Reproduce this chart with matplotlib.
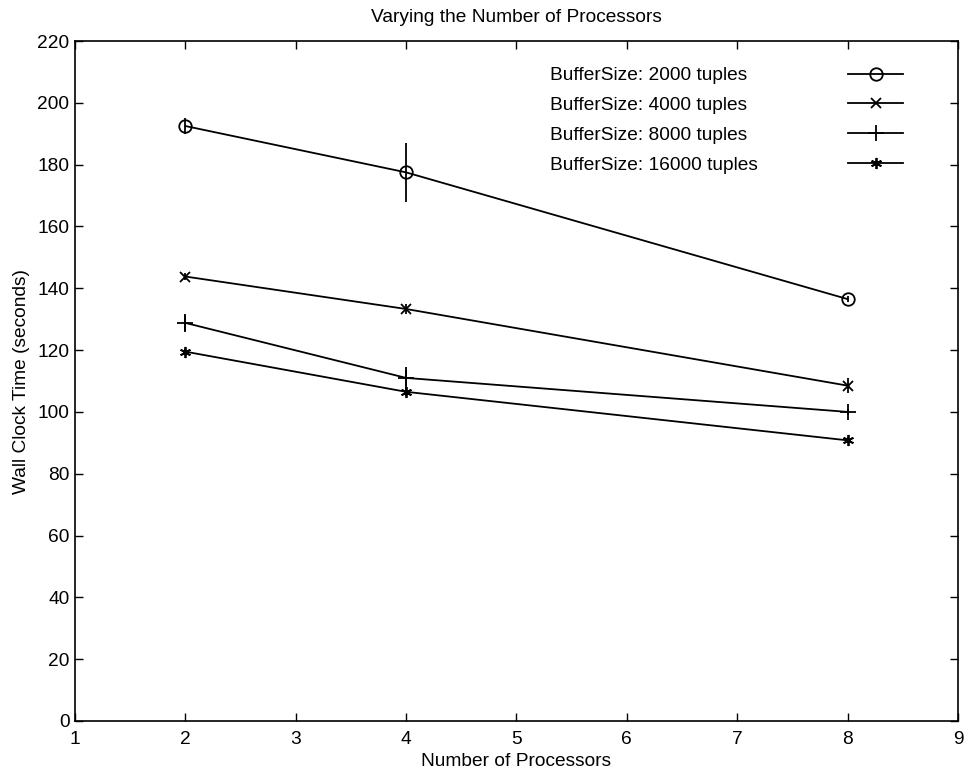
import matplotlib.pyplot as plt

plt.rcParams['font.family'] = ['Liberation Sans', 'DejaVu Sans']

procs = [2, 4, 8]

t2000 = [192.5, 177.5, 136.5]
e2000 = [2.5, 9.5, 1.0]
t4000 = [143.8, 133.3, 108.5]
e4000 = [1.0, 1.5, 2.4]
t8000 = [128.8, 111.0, 100.0]
e8000 = [3.0, 3.5, 1.0]
t16000 = [119.5, 106.5, 90.8]
e16000 = [1.0, 1.5, 1.0]

labels = ['BufferSize: 2000 tuples', 'BufferSize: 4000 tuples',
          'BufferSize: 8000 tuples', 'BufferSize: 16000 tuples']
markers = ['o', 'x', '+', (6, 2, 0)]
msizes = [9, 6.5, 11, 8]
fs = 13.8

fig = plt.figure(figsize=(9.66, 7.77), dpi=100)
ax = fig.add_axes([0.0776, 0.0721, 0.9141, 0.8751])

series = [(t2000, e2000), (t4000, e4000), (t8000, e8000), (t16000, e16000)]
handles = []
for (t, e), mk, ms, lab in zip(series, markers, msizes, labels):
    h = ax.errorbar(procs, t, yerr=e, color='k', lw=1.3, capsize=0,
                    marker=mk, ms=ms, mfc='none', mec='k', mew=1.3,
                    elinewidth=1.3)
    handles.append(h[0])

ax.set_xlim(1, 9)
ax.set_ylim(0, 220)
ax.set_xticks(range(1, 10))
ax.set_yticks(range(0, 221, 20))
ax.tick_params(direction='in', top=True, right=True, length=6,
               labelsize=fs, width=1)
ax.tick_params(axis='x', pad=7)
ax.tick_params(axis='y', pad=4)
for s in ax.spines.values():
    s.set_linewidth(1.2)

ax.set_xlabel('Number of Processors', fontsize=fs, labelpad=4)
ax.set_ylabel('Wall Clock Time (seconds)', fontsize=fs, labelpad=5)
ax.set_title('Varying the Number of Processors', fontsize=fs, pad=14)

# MATLAB-style legend: left-aligned labels, line samples on the right
ax.legend(handles, [''] * 4, loc='upper right', bbox_to_anchor=(0.938, 0.962),
          frameon=False, fontsize=fs, handlelength=2.87, handletextpad=0,
          borderpad=0, borderaxespad=0, labelspacing=0.64)
row_y = [0.949, 0.905, 0.861, 0.817]
for y, lab in zip(row_y, labels):
    ax.text(0.538, y, lab, transform=ax.transAxes, fontsize=fs,
            ha='left', va='center')

plt.savefig('out.png', dpi=100)
